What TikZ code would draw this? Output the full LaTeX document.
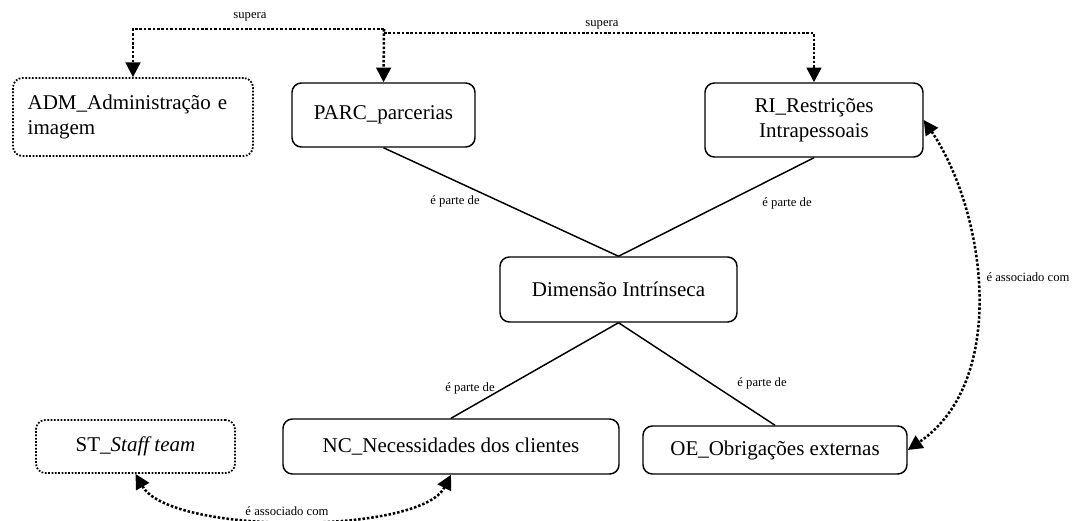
\documentclass[tikz,border=0pt]{standalone}
\usepackage{fontspec}
\setmainfont{Liberation Serif}
\usetikzlibrary{arrows.meta}

\begin{document}
\begin{tikzpicture}[x=0.75pt,y=-0.75pt,
        conceito/.style={draw, rounded corners=7pt, line width=1.1pt, align=center,
            font=\fontsize{15.75}{19}\selectfont},
        extra/.style={conceito, line width=1.3pt, dash pattern=on 1.3pt off 1.2pt},
        rotulo/.style={font=\fontsize{9.5}{11}\selectfont, inner sep=1pt},
        pontilhado/.style={line width=1.9pt, dash pattern=on 1.9pt off 1.4pt},
        ponta/.style={-{Triangle[length=11pt,width=11pt]}},
        duasPontas/.style={{Triangle[length=11pt,width=11pt]}-{Triangle[length=11pt,width=11pt]}},
        parte/.style={line width=1.1pt}]
        \useasboundingbox (0,0) rectangle (1078,521);

        %conceitos
        \node[extra, minimum width=180pt, minimum height=58.5pt, text width=158pt, align=left] (adm) at (133,117) {ADM\_Administração e\\imagem};
        \node[conceito, minimum width=137.25pt, minimum height=48pt] (parc) at (383.5,115) {PARC\_parcerias};
        \node[conceito, minimum width=163.5pt, minimum height=55.5pt] (ri) at (814,120) {RI\_Restrições\\Intrapessoais};
        \node[conceito, minimum width=177.75pt, minimum height=48.75pt] (dim) at (618.5,289.5) {Dimensão Intrínseca};
        \node[extra, minimum width=149.25pt, minimum height=39.75pt] (st) at (135.5,446.5) {ST\_\textit{Staff team}};
        \node[conceito, minimum width=252pt, minimum height=41.25pt] (nc) at (451,446.5) {NC\_Necessidades dos clientes};
        \node[conceito, minimum width=198pt, minimum height=36pt] (oe) at (775,450) {OE\_Obrigações externas};

        %supera
        \coordinate (supA) at (384,29);
        \coordinate (supB) at (384,33);
        \draw[pontilhado, ponta] (supA) -| (adm.north);
        \draw[pontilhado, ponta] (supA) -- (parc.north);
        \draw[pontilhado, ponta] (supB) -| (ri.north);
        \node[rotulo] (supera1) at (250,17) {supera};
        \node[rotulo] (supera2) at (602,25) {supera};

        %é parte de
        \draw[parte] (parc.south) -- (dim.north);
        \draw[parte] (ri.south) -- (dim.north);
        \draw[parte] (dim.south) -- (nc.north);
        \draw[parte] (dim.south) -- (oe.north);
        \node[rotulo] (parte1) at (455,201) {é parte de};
        \node[rotulo] (parte2) at (787,203) {é parte de};
        \node[rotulo] (parte3) at (470,388) {é parte de};
        \node[rotulo] (parte4) at (762,383) {é parte de};

        %é associado com
        \draw[pontilhado, duasPontas] (ri.east) .. controls (985,210) and (1010,380) .. (oe.east);
        \draw[pontilhado, duasPontas] (st.south) .. controls (170,535) and (420,535) .. (nc.south);
        \node[rotulo] (assoc1) at (1028,277) {é associado com};
        \node[rotulo] (assoc2) at (287,511) {é associado com};

    \end{tikzpicture}
\end{document}
